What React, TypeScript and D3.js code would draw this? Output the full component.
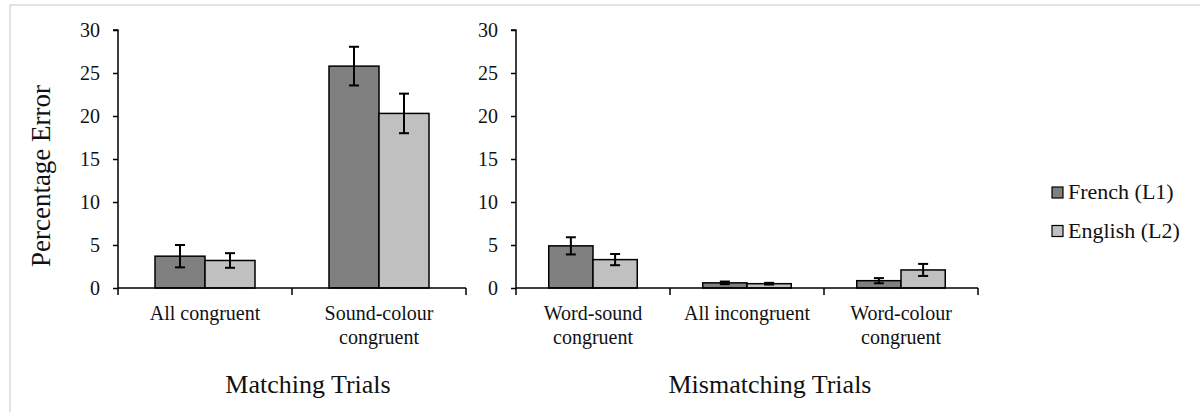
import React, { useEffect, useRef } from 'react';
import * as d3 from 'd3';

const series = ['French (L1)', 'English (L2)'];
const seriesColors = ['#808080', '#c0c0c0'];
const yTicks = [0, 5, 10, 15, 20, 25, 30];

// Matching trials
const matchingCategories = ['All congruent', 'Sound-colour\ncongruent'];
const matchingFrench = [3.7, 25.8];
const matchingFrenchErr = [1.3, 2.25];
const matchingEnglish = [3.2, 20.3];
const matchingEnglishErr = [0.85, 2.3];

// Mismatching trials
const mismatchingCategories = ['Word-sound\ncongruent', 'All incongruent', 'Word-colour\ncongruent'];
const mismatchingFrench = [4.9, 0.6, 0.85];
const mismatchingFrenchErr = [1.0, 0.15, 0.3];
const mismatchingEnglish = [3.3, 0.5, 2.1];
const mismatchingEnglishErr = [0.65, 0.1, 0.7];

const FONT = '"Liberation Serif", "Times New Roman", serif';

type Panel = {
  cats: string[];
  values: number[][];
  errs: number[][];
  left: number;
  right: number;
  title: string;
  titleX: number;
};

function drawPanel(svg: any, y: any, p: Panel) {
  const g = svg.append('g');

  const x0 = d3.scaleBand().domain(p.cats).range([p.left, p.right]).padding(0);
  const x1 = d3.scaleBand().domain(series).range([0, x0.bandwidth()])
    .paddingInner(0).paddingOuter(0.74);

  // bars
  p.cats.forEach((c, ci) => {
    series.forEach((s, si) => {
      const v = p.values[si][ci];
      const e = p.errs[si][ci];
      const bx = (x0(c) as number) + (x1(s) as number);
      g.append('rect')
        .attr('x', bx)
        .attr('y', y(v))
        .attr('width', x1.bandwidth())
        .attr('height', y(0) - y(v))
        .attr('fill', seriesColors[si])
        .attr('stroke', '#000')
        .attr('stroke-width', 1.5);

      // error bar
      const cx = bx + x1.bandwidth() / 2;
      const eb = g.append('g').attr('stroke', '#000').attr('stroke-width', 2);
      eb.append('line').attr('x1', cx).attr('x2', cx).attr('y1', y(v + e)).attr('y2', y(v - e));
      eb.append('line').attr('x1', cx - 5).attr('x2', cx + 5).attr('y1', y(v + e)).attr('y2', y(v + e));
      eb.append('line').attr('x1', cx - 5).attr('x2', cx + 5).attr('y1', y(v - e)).attr('y2', y(v - e));
    });
  });

  // y axis
  const yAxis = d3.axisLeft(y).tickValues(yTicks).tickSize(5).tickPadding(13);
  const ya = g.append('g')
    .attr('transform', 'translate(' + p.left + ',0)')
    .call(yAxis);
  ya.select('.domain').attr('stroke', '#000').attr('stroke-width', 1.5).attr('d', 'M-5,' + y(30) + 'H0V' + y(0));
  ya.selectAll('.tick line').attr('stroke', '#000').attr('stroke-width', 1.5);
  ya.selectAll('.tick text')
    .attr('fill', '#111')
    .style('font-family', FONT)
    .style('font-size', '20px');

  // x axis line + ticks at band edges
  const edges = p.cats.map((c) => x0(c) as number).concat([p.right]);
  g.append('line')
    .attr('x1', p.left).attr('x2', p.right)
    .attr('y1', y(0)).attr('y2', y(0))
    .attr('stroke', '#000').attr('stroke-width', 1.5);
  g.selectAll('.xtick').data(edges).enter().append('line')
    .attr('class', 'xtick')
    .attr('x1', (d: number) => d).attr('x2', (d: number) => d)
    .attr('y1', y(0)).attr('y2', y(0) + 7)
    .attr('stroke', '#000').attr('stroke-width', 1.5);

  // category labels
  p.cats.forEach((c) => {
    const t = g.append('text')
      .attr('text-anchor', 'middle')
      .attr('fill', '#111')
      .style('font-family', FONT)
      .style('font-size', '20px');
    c.split('\n').forEach((line, i) => {
      t.append('tspan')
        .attr('x', (x0(c) as number) + x0.bandwidth() / 2)
        .attr('y', 320 + i * 24)
        .text(line);
    });
  });

  // panel title
  g.append('text')
    .attr('x', p.titleX)
    .attr('y', 393)
    .attr('text-anchor', 'middle')
    .attr('fill', '#111')
    .style('font-family', FONT)
    .style('font-size', '26px')
    .text(p.title);
}

export default function App() {
  const ref = useRef<SVGSVGElement | null>(null);

  useEffect(() => {
    const svg = d3.select(ref.current);
    svg.selectAll('*').remove();

    // light frame
    svg.append('rect')
      .attr('x', 10).attr('y', 5)
      .attr('width', 1200).attr('height', 420)
      .attr('fill', '#fff')
      .attr('stroke', '#d9d9d9')
      .attr('stroke-width', 1.5);

    const y = d3.scaleLinear().domain([0, 30]).range([288, 30]);

    drawPanel(svg, y, {
      cats: matchingCategories,
      values: [matchingFrench, matchingEnglish],
      errs: [matchingFrenchErr, matchingEnglishErr],
      left: 118,
      right: 466,
      title: 'Matching Trials',
      titleX: 308,
    });

    drawPanel(svg, y, {
      cats: mismatchingCategories,
      values: [mismatchingFrench, mismatchingEnglish],
      errs: [mismatchingFrenchErr, mismatchingEnglishErr],
      left: 516,
      right: 978,
      title: 'Mismatching Trials',
      titleX: 770,
    });

    // y axis title
    svg.append('text')
      .attr('transform', 'translate(50,176) rotate(-90)')
      .attr('text-anchor', 'middle')
      .attr('fill', '#111')
      .style('font-family', FONT)
      .style('font-size', '27px')
      .text('Percentage Error');

    // legend
    const le = svg.append('g').attr('transform', 'translate(1052,187)');
    series.forEach((s, i) => {
      le.append('rect')
        .attr('x', 0).attr('y', i * 38.5)
        .attr('width', 11).attr('height', 11)
        .attr('fill', seriesColors[i])
        .attr('stroke', '#000')
        .attr('stroke-width', 1.2);
      le.append('text')
        .attr('x', 16).attr('y', i * 38.5 + 12)
        .attr('fill', '#111')
        .style('font-family', FONT)
        .style('font-size', '22px')
        .text(s);
    });
  }, []);

  return (
    <div style={{ position: 'absolute', left: 0, top: 0, width: 1200, height: 412, background: '#fff' }}>
      <svg ref={ref} width={1200} height={412} style={{ display: 'block' }} />
    </div>
  );
}
